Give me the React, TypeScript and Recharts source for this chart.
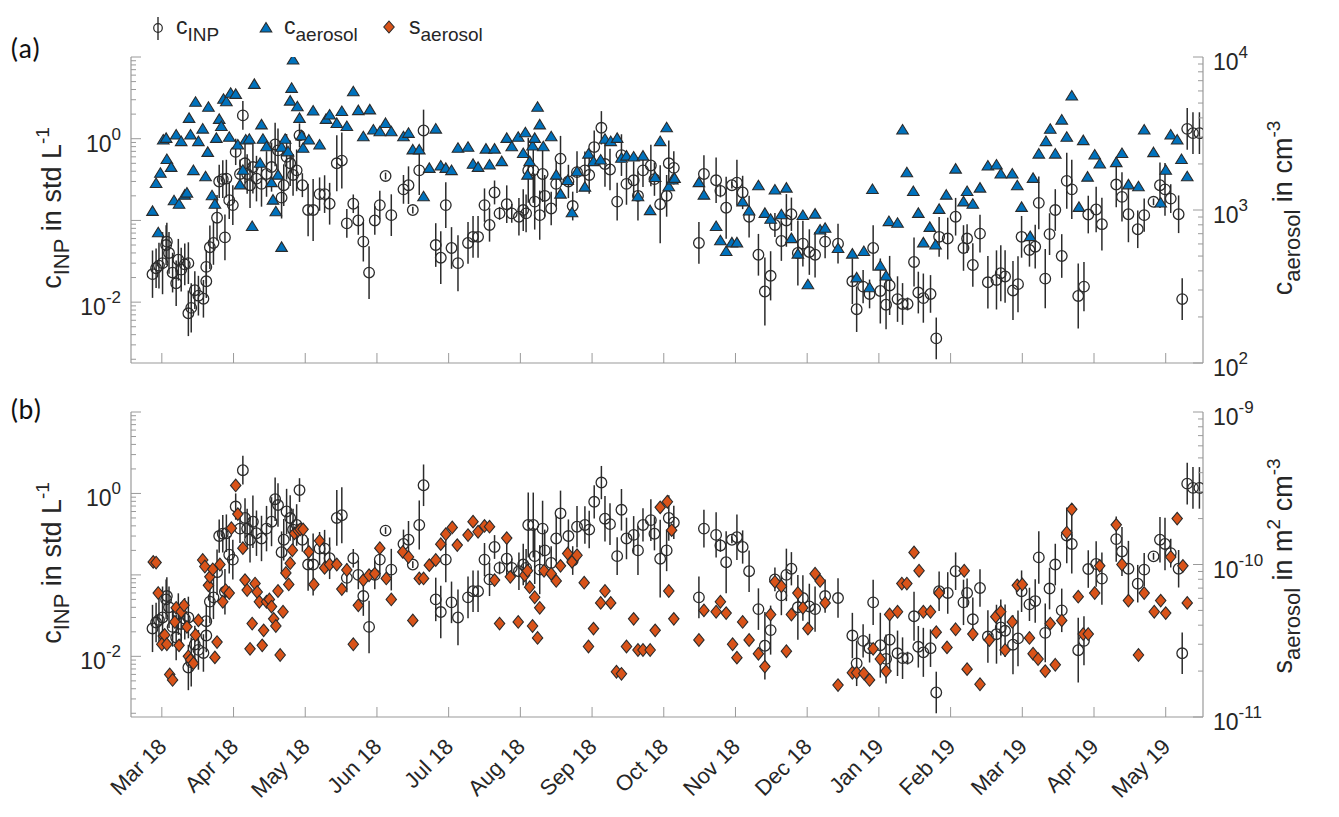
import React from 'react';
import { ScatterChart, Scatter, XAxis, YAxis, ErrorBar } from 'recharts';

// ---------- categories / ticks ----------
const monthLabels = ['Mar 18', 'Apr 18', 'May 18', 'Jun 18', 'Jul 18', 'Aug 18', 'Sep 18', 'Oct 18', 'Nov 18', 'Dec 18', 'Jan 19', 'Feb 19', 'Mar 19', 'Apr 19', 'May 19'];
const monthTicks = monthLabels.map((_, i) => i);
const xDomain = [-0.43, 14.52];

const inpDomain = [0.0018, 10];
const inpLabelTicks = [0.01, 1];
const concDomain = [100, 10000];
const concLabelTicks = [100, 1000, 10000];
const surfDomain = [1e-11, 1e-9];
const surfLabelTicks = [1e-11, 1e-10, 1e-9];

// ---------- series: c_INP [month, value (std L^-1), error factor] ----------
const inpData = [
  [-0.13, 0.022, 1.95], [-0.08, 0.026, 1.75], [-0.04, 0.028, 1.9], [0.01, 0.030, 2.4], [0.06, 0.050, 1.75], [0.07, 0.055, 1.7], [0.10, 0.040, 1.8], [0.15, 0.023, 1.75], [0.20, 0.017, 1.9], [0.23, 0.033, 1.8],
  [0.27, 0.025, 1.85], [0.32, 0.029, 1.8], [0.37, 0.030, 1.8], [0.37, 0.0073, 1.9], [0.41, 0.0085, 2.0], [0.46, 0.014, 1.7], [0.51, 0.012, 1.75], [0.58, 0.011, 1.7], [0.62, 0.018, 1.6], [0.62, 0.027, 1.6],
  [0.67, 0.047, 1.85], [0.72, 0.053, 1.85], [0.77, 0.108, 1.9], [0.88, 0.062, 1.9], [0.80, 0.30, 1.6], [0.85, 0.32, 1.7], [0.90, 0.325, 1.7], [0.94, 0.177, 1.7], [0.99, 0.154, 1.75], [1.03, 0.69, 1.45],
  [1.09, 0.37, 1.5], [1.13, 1.93, 1.5], [1.16, 0.50, 1.75], [1.19, 0.37, 1.75], [1.23, 0.27, 1.9], [1.27, 0.45, 2.1], [1.32, 0.325, 1.9], [1.39, 0.28, 1.9], [1.46, 0.37, 1.9], [1.53, 0.45, 2.0],
  [1.58, 0.85, 1.85], [1.62, 0.72, 1.85], [1.67, 0.19, 1.8], [1.70, 0.27, 1.8], [1.74, 0.60, 1.9], [1.79, 0.50, 1.9], [1.83, 0.36, 1.8], [1.88, 0.41, 1.8], [1.92, 1.10, 1.4], [1.96, 0.27, 1.4],
  [2.04, 0.134, 2.1], [2.11, 0.134, 2.4], [2.20, 0.21, 1.6], [2.27, 0.21, 1.7], [2.34, 0.16, 1.8], [2.44, 0.50, 2.2], [2.51, 0.54, 2.2], [2.58, 0.092, 1.5], [2.67, 0.16, 1.3], [2.74, 0.10, 1.5],
  [2.81, 0.055, 1.75], [2.89, 0.023, 2.1], [2.97, 0.10, 1.5], [3.04, 0.154, 1.5], [3.12, 0.35, 1.1], [3.20, 0.116, 1.8], [3.37, 0.24, 1.5], [3.44, 0.27, 1.7], [3.50, 0.134, 1.1], [3.59, 0.41, 2.0],
  [3.65, 1.26, 1.8], [3.82, 0.050, 1.85], [3.89, 0.035, 2.1], [3.96, 0.154, 1.9], [4.04, 0.046, 1.8], [4.13, 0.030, 2.2], [4.27, 0.053, 1.8], [4.34, 0.063, 1.8], [4.41, 0.063, 1.8], [4.50, 0.154, 1.6],
  [4.57, 0.088, 1.6], [4.64, 0.22, 1.4], [4.71, 0.122, 1.2],
  [4.81, 0.158, 1.7], [4.88, 0.122, 1.3], [4.98, 0.111, 1.7], [5.04, 0.134, 1.8], [5.08, 0.122, 1.7], [5.11, 0.41, 2.5], [5.18, 0.41, 2.5], [5.20, 0.17, 2.2], [5.27, 0.116, 2.0], [5.31, 0.37, 2.2],
  [5.34, 0.20, 1.8], [5.43, 0.14, 1.6], [5.50, 0.28, 1.9], [5.56, 0.57, 1.9], [5.67, 0.30, 1.6], [5.73, 0.15, 1.5], [5.79, 0.39, 1.8], [5.90, 0.41, 1.7], [5.96, 0.36, 1.7], [6.03, 0.79, 1.6],
  [6.13, 1.36, 1.6], [6.18, 0.49, 1.9], [6.25, 0.42, 1.8], [6.35, 0.17, 1.7], [6.41, 0.63, 1.8], [6.48, 0.28, 1.8], [6.58, 0.31, 1.7], [6.64, 0.20, 2.0], [6.71, 0.41, 1.6], [6.82, 0.47, 1.8],
  [6.87, 0.32, 1.6], [6.95, 0.158, 3.0], [7.04, 0.20, 1.8], [7.07, 0.50, 1.9], [7.14, 0.44, 1.6], [7.49, 0.053, 1.8], [7.56, 0.37, 1.7], [7.73, 0.31, 1.9], [7.79, 0.23, 1.2], [7.87, 0.143, 2.4],
  [7.95, 0.27, 1.1], [8.02, 0.29, 1.9], [8.10, 0.22, 1.6], [8.19, 0.111, 1.8], [8.32, 0.038, 1.8], [8.41, 0.0135, 2.6], [8.49, 0.021, 2.0], [8.55, 0.088, 1.4], [8.64, 0.056, 1.75], [8.71, 0.10, 2.1],
  [8.78, 0.119, 1.6], [8.87, 0.040, 2.5], [8.94, 0.052, 1.9], [9.03, 0.041, 1.9], [9.11, 0.038, 1.9], [9.25, 0.055, 1.6], [9.43, 0.052, 1.75], [9.63, 0.018, 1.9], [9.69, 0.0082, 1.9],
  [9.78, 0.0155, 1.6], [9.87, 0.0126, 1.5], [9.92, 0.046, 1.9], [10.02, 0.0137, 2.5], [10.10, 0.0093, 2.0], [10.15, 0.016, 2.3], [10.26, 0.0109, 1.9], [10.33, 0.0095, 1.8], [10.40, 0.0095, 1.2], [10.49, 0.031, 2.0],
  [10.55, 0.0131, 1.8], [10.62, 0.0112, 2.0], [10.72, 0.0126, 1.7], [10.80, 0.0036, 1.8], [10.84, 0.063, 1.75], [10.96, 0.060, 1.8], [11.07, 0.111, 1.7], [11.18, 0.046, 1.9], [11.23, 0.060, 1.5], [11.31, 0.0285, 1.85],
  [11.41, 0.069, 1.7], [11.52, 0.0175, 2.1], [11.64, 0.0187, 2.3], [11.70, 0.0226, 2.2], [11.76, 0.0206, 2.1], [11.87, 0.0139, 2.3], [11.94, 0.0166, 2.2], [11.99, 0.063, 1.8], [12.10, 0.0435, 1.6], [12.18, 0.0477, 1.85],
  [12.23, 0.164, 2.1], [12.32, 0.0194, 2.3], [12.38, 0.068, 1.8], [12.46, 0.134, 1.8], [12.55, 0.0367, 1.85], [12.62, 0.305, 2.2], [12.69, 0.24, 2.3], [12.78, 0.0119, 2.5], [12.86, 0.0155, 2.0], [12.92, 0.118, 1.7],
  [13.03, 0.136, 1.9], [13.11, 0.090, 2.1], [13.31, 0.275, 1.9], [13.39, 0.194, 2.0], [13.48, 0.119, 2.2], [13.61, 0.078, 1.7], [13.70, 0.116, 1.6], [13.83, 0.169, 1.1], [13.92, 0.27, 1.9], [13.99, 0.24, 2.1],
  [14.07, 0.185, 1.5], [14.18, 0.119, 1.7], [14.23, 0.0109, 1.8], [14.30, 1.32, 1.8], [14.38, 1.17, 1.8], [14.47, 1.17, 1.8],
];

// ---------- series: c_aerosol [month, cm^-3] ----------
const aerosolConc = [
  [-0.13, 980], [-0.08, 1490], [-0.05, 710], [-0.02, 1740], [0.02, 2870], [0.06, 2940], [0.07, 2140], [0.13, 1900], [0.17, 1150], [0.20, 3090],
  [0.24, 1090], [0.27, 2800], [0.32, 1250], [0.35, 1290], [0.38, 3970], [0.40, 3090], [0.44, 1810], [0.47, 5060], [0.51, 2800], [0.57, 3380],
  [0.61, 1650], [0.65, 4690], [0.64, 2380], [0.70, 1240], [0.74, 1090], [0.76, 2940], [0.80, 3910], [0.83, 3510], [0.86, 5290], [0.90, 5100],
  [0.94, 2990], [0.96, 5800], [1.03, 5700], [1.06, 2660], [1.09, 1460], [1.13, 1820], [1.17, 2870], [1.22, 2900], [1.26, 780], [1.29, 6620],
  [1.37, 2020], [1.39, 3600], [1.41, 2900], [1.46, 2590], [1.53, 1510], [1.55, 1160], [1.59, 975], [1.62, 1690], [1.67, 2570], [1.67, 570],
  [1.72, 2900], [1.76, 2400], [1.79, 5150], [1.81, 6240], [1.83, 9550], [1.89, 4730], [1.92, 3970], [1.95, 3050], [1.97, 2530], [2.05, 2870],
  [2.11, 4440], [2.20, 2660], [2.29, 3910], [2.34, 4180], [2.44, 3680], [2.51, 4400], [2.58, 3510], [2.67, 5930], [2.74, 4460], [2.81, 3010],
  [2.90, 4510], [2.95, 3330], [3.04, 3250], [3.12, 3680], [3.20, 3250], [3.37, 3010], [3.44, 3170], [3.50, 2470], [3.59, 2470], [3.65, 1220],
  [3.73, 1870], [3.82, 3380], [3.89, 1940], [3.96, 1870], [4.04, 1810], [4.13, 2530], [4.27, 2570], [4.34, 1990], [4.41, 1900], [4.52, 2500],
  [4.57, 1970], [4.64, 2500],
  [4.74, 2070], [4.81, 2940], [4.88, 2590], [4.97, 2990], [5.04, 2340], [5.07, 3200], [5.10, 1690], [5.13, 2070], [5.17, 2620], [5.20, 2940],
  [5.24, 4690], [5.27, 3600], [5.32, 2590], [5.43, 3010], [5.50, 1690], [5.56, 1270], [5.66, 1560], [5.72, 960], [5.79, 1780], [5.90, 1410],
  [5.95, 2320], [6.02, 2070], [6.12, 2120], [6.18, 2900], [6.26, 2800], [6.35, 2940], [6.41, 2180], [6.48, 2250], [6.58, 2220], [6.64, 1220],
  [6.71, 2250], [6.81, 990], [6.88, 1630], [6.95, 2800], [7.04, 3450], [7.07, 1420], [7.12, 1570], [7.15, 1610], [7.49, 1510], [7.56, 1250],
  [7.73, 780], [7.79, 630], [7.87, 535], [7.95, 610], [8.02, 610], [8.10, 1130], [8.19, 985], [8.32, 1440], [8.41, 950], [8.49, 870],
  [8.55, 1350], [8.64, 930], [8.71, 1390], [8.78, 650], [8.87, 515], [8.94, 920], [9.01, 325], [9.11, 940], [9.18, 740], [9.25, 760],
  [9.43, 560], [9.63, 515], [9.69, 360],
  [9.79, 535], [9.87, 310], [9.91, 1360], [10.02, 430], [10.10, 370], [10.14, 840], [10.26, 820], [10.33, 3330], [10.39, 1750], [10.48, 1320],
  [10.55, 950], [10.62, 610], [10.71, 770], [10.79, 590], [10.84, 1010], [10.94, 1250], [11.07, 1850], [11.18, 1130], [11.23, 1320], [11.31, 1090],
  [11.41, 1390], [11.52, 1940], [11.64, 1970], [11.70, 1720], [11.86, 1720], [11.93, 1440], [11.99, 1040], [12.11, 670], [12.15, 1610], [12.23, 2320],
  [12.33, 2800], [12.39, 3370], [12.46, 2320], [12.55, 3870], [12.62, 2990], [12.69, 5560], [12.79, 1040], [12.85, 2840], [12.91, 1640], [13.01, 2290],
  [13.08, 2000], [13.31, 2040], [13.39, 2340], [13.48, 1460], [13.62, 1420], [13.70, 3330], [13.83, 2370], [13.93, 1110], [14.00, 1820], [14.07, 3090],
  [14.16, 2870], [14.22, 2140], [14.30, 1650],
];

// ---------- series: s_aerosol [month, m^2 cm^-3] ----------
const aerosolSurf = [
  [-0.12, 1.04e-10], [-0.08, 1.03e-10], [-0.05, 6.5e-11], [0.02, 3.4e-11], [0.04, 3.45e-11], [0.0, 3.0e-11], [0.07, 3.0e-11], [0.11, 1.9e-11], [0.15, 1.75e-11], [0.18, 4.2e-11],
  [0.20, 5.2e-11], [0.24, 2.95e-11], [0.27, 4.9e-11], [0.31, 5.4e-11], [0.35, 3.9e-11], [0.37, 2.5e-11], [0.40, 2.37e-11], [0.44, 2.25e-11], [0.47, 3.45e-11], [0.51, 4.3e-11],
  [0.57, 1.07e-10], [0.60, 9.7e-11], [0.65, 7.3e-11], [0.67, 8.3e-11], [0.71, 9.3e-11], [0.74, 2.46e-11], [0.77, 3.1e-11], [0.81, 1.0e-10], [0.85, 5.7e-11], [0.89, 6.8e-11],
  [0.94, 6.5e-11], [0.97, 1.73e-10], [1.03, 3.3e-10], [1.06, 2.14e-10], [1.13, 1.28e-10], [1.16, 7.9e-11], [1.19, 6.8e-11], [1.23, 2.8e-11], [1.26, 4.1e-11], [1.30, 7.5e-11],
  [1.33, 6.6e-11], [1.36, 5.7e-11], [1.40, 2.95e-11], [1.42, 3.7e-11], [1.46, 5.7e-11], [1.50, 5.9e-11], [1.53, 5.3e-11], [1.56, 4.4e-11], [1.59, 3.95e-11], [1.62, 6.7e-11],
  [1.65, 2.55e-11], [1.69, 4.9e-11], [1.73, 8.8e-11], [1.77, 7.4e-11], [1.79, 1.02e-10], [1.82, 1.24e-10], [1.85, 1.6e-10], [1.90, 1.67e-10], [1.93, 1.7e-10], [1.97, 1.7e-10],
  [2.05, 1.21e-10], [2.12, 7.4e-11], [2.20, 1.43e-10], [2.27, 9.5e-11], [2.34, 1.0e-10], [2.44, 1.0e-10], [2.51, 6.9e-11], [2.58, 9.2e-11], [2.67, 3.0e-11], [2.74, 5.4e-11],
  [2.81, 7.9e-11], [2.89, 8.5e-11], [2.97, 8.7e-11], [3.04, 1.28e-10], [3.13, 8.1e-11], [3.20, 5.9e-11], [3.36, 1.21e-10], [3.44, 1.12e-10], [3.50, 4.3e-11], [3.59, 8.1e-11],
  [3.65, 8.1e-11], [3.73, 9.9e-11], [3.82, 1.07e-10], [3.89, 1.36e-10], [3.96, 1.58e-10], [4.05, 1.75e-10], [4.12, 1.34e-10], [4.27, 1.56e-10], [4.34, 1.91e-10], [4.41, 1.64e-10],
  [4.50, 1.79e-10], [4.57, 1.77e-10], [4.64, 7.9e-11], [4.71, 4.1e-11],
  [4.81, 1.49e-10], [4.86, 8.3e-11], [4.97, 4.2e-11], [5.06, 8.5e-11], [5.10, 9.1e-11], [5.13, 7.1e-11], [5.17, 3.95e-11], [5.20, 6.1e-11], [5.24, 3.3e-11], [5.27, 5.2e-11],
  [5.33, 9.1e-11], [5.43, 8.7e-11], [5.50, 7.8e-11], [5.56, 9.8e-11], [5.66, 1.18e-10], [5.72, 1.04e-10], [5.79, 1.15e-10], [5.89, 7.6e-11], [5.95, 2.9e-11], [6.02, 3.8e-11],
  [6.12, 5.6e-11], [6.18, 6.7e-11], [6.26, 5.6e-11], [6.34, 1.98e-11], [6.41, 1.92e-11], [6.48, 2.9e-11], [6.58, 4.4e-11], [6.64, 2.75e-11], [6.71, 2.75e-11], [6.81, 2.75e-11],
  [6.88, 3.7e-11], [6.95, 2.37e-10], [7.05, 2.58e-10], [7.11, 1.68e-10], [7.07, 6.7e-11], [7.14, 4.4e-11], [7.49, 3.2e-11], [7.56, 5.0e-11], [7.73, 4.9e-11], [7.79, 5.7e-11],
  [7.87, 4.8e-11], [7.96, 3.0e-11], [8.02, 2.45e-11], [8.10, 4.2e-11], [8.19, 3.2e-11], [8.32, 2.6e-11], [8.41, 2.14e-11], [8.49, 4.7e-11], [8.55, 7.7e-11], [8.64, 7.2e-11],
  [8.71, 2.7e-11], [8.78, 4.7e-11], [8.87, 6.5e-11], [8.94, 5.2e-11], [9.01, 3.8e-11], [9.11, 8.7e-11], [9.18, 7.8e-11], [9.25, 5.6e-11], [9.43, 1.62e-11], [9.63, 1.95e-11],
  [9.69, 1.95e-11],
  [9.79, 1.93e-11], [9.87, 1.75e-11], [9.92, 2.8e-11], [10.02, 2.4e-11], [10.10, 2.0e-11], [10.15, 4.7e-11], [10.26, 4.9e-11], [10.32, 7.5e-11], [10.39, 7.5e-11], [10.49, 1.2e-10],
  [10.56, 9.1e-11], [10.62, 4.9e-11], [10.72, 4.9e-11], [10.80, 3.6e-11], [10.84, 6.5e-11], [10.95, 2.86e-11], [11.07, 3.76e-11], [11.19, 9.1e-11], [11.23, 2.06e-11], [11.31, 3.5e-11],
  [11.41, 1.64e-11], [11.54, 3.2e-11], [11.63, 4.55e-11], [11.70, 4.9e-11], [11.76, 2.75e-11], [11.86, 4.2e-11], [11.93, 7.3e-11], [12.00, 7.4e-11], [12.10, 3.3e-11], [12.15, 2.6e-11],
  [12.22, 2.4e-11], [12.32, 2.0e-11], [12.39, 4.1e-11], [12.46, 2.2e-11], [12.55, 4.3e-11], [12.62, 1.62e-10], [12.69, 2.3e-10], [12.78, 6.15e-11], [12.85, 3.5e-11], [12.92, 3.5e-11],
  [13.01, 6.5e-11], [13.08, 9.8e-11], [13.31, 1.82e-10], [13.39, 1.0e-10], [13.48, 5.8e-11], [13.62, 2.55e-11], [13.70, 6.5e-11], [13.84, 4.9e-11], [13.93, 5.8e-11], [14.00, 4.8e-11],
  [14.07, 1.12e-10], [14.16, 2.0e-10], [14.24, 9.8e-11], [14.30, 5.6e-11],
];

// ---------- derived tables for the library ----------
const inpPoints = inpData.map(([x, y, f]) => ({ x, y, err: [y - y / f, y * f - y] }));
const concPoints = aerosolConc.map(([x, y]) => ({ x, y }));
const surfPoints = aerosolSurf.map(([x, y]) => ({ x, y }));

const logTicks = (dom: number[]) => {
  const out: number[] = [];
  const e0 = Math.floor(Math.log10(dom[0]));
  const e1 = Math.ceil(Math.log10(dom[1]));
  for (let e = e0; e <= e1; e++) {
    for (let m = 1; m <= 9; m++) {
      const v = parseFloat((m * Math.pow(10, e)).toPrecision(6));
      if (v >= dom[0] * 0.9999 && v <= dom[1] * 1.0001) out.push(v);
    }
  }
  return out;
};

// ---------- style ----------
const AX = '#9a9a9a';
const TXT = '#262626';
const EDGE = '#2b2b2b';
const FONT = '"Liberation Sans", Arial, Helvetica, sans-serif';
const W = 1339;
const PL = 131;
const PR = 1203;

const isMajor = (v: number) => {
  const lg = Math.log10(v);
  return Math.abs(lg - Math.round(lg)) < 1e-6;
};

const YTick = (props: any) => {
  const { payload, y, side, labels } = props;
  const v = payload.value;
  const lg = Math.log10(v);
  const major = isMajor(v);
  const edge = side === 'left' ? PL : PR;
  const dir = side === 'left' ? 1 : -1;
  const len = major ? 10 : 5;
  const hasLabel = major && labels.some((l: number) => Math.abs(Math.log10(l) - lg) < 1e-6);
  return (
    <g>
      <line x1={edge} x2={edge + dir * len} y1={y} y2={y} stroke={AX} strokeWidth={1} />
      {hasLabel && (
        <text
          x={side === 'left' ? edge - 10 : edge + 10}
          y={y + 13}
          textAnchor={side === 'left' ? 'end' : 'start'}
          fontSize={23}
          fill={TXT}
          fontFamily={FONT}
        >
          10
          <tspan dy={-12} fontSize={17}>
            {String(Math.round(lg))}
          </tspan>
        </text>
      )}
    </g>
  );
};

const XTick = (props: any) => {
  const { x, payload, edgeY, dir, showLabel } = props;
  return (
    <g>
      <line x1={x} x2={x} y1={edgeY} y2={edgeY + dir * 10} stroke={AX} strokeWidth={1} />
      {showLabel && (
        <text
          transform={`translate(${x + 6},${edgeY + 31}) rotate(-45)`}
          textAnchor="end"
          fontSize={22}
          fill={TXT}
          fontFamily={FONT}
        >
          {monthLabels[payload.value]}
        </text>
      )}
    </g>
  );
};

const Circle = (p: any) => <circle cx={p.cx} cy={p.cy} r={5.3} fill="none" stroke={EDGE} strokeWidth={1.3} />;
const Tri = (p: any) => {
  const { cx, cy } = p;
  return <polygon points={`${cx},${cy - 5.5} ${cx + 5.8},${cy + 4} ${cx - 5.8},${cy + 4}`} fill="#0072BD" stroke={EDGE} strokeWidth={1.1} />;
};
const Dia = (p: any) => {
  const { cx, cy } = p;
  return <polygon points={`${cx},${cy - 6.3} ${cx + 5.2},${cy} ${cx},${cy + 6.3} ${cx - 5.2},${cy}`} fill="#D95319" stroke={EDGE} strokeWidth={1.1} />;
};

const Panel = (props: any) => {
  const { height, top, bottomH, rightData, rightDomain, rightLabels, rightShape, showXLabels } = props;
  const plotTop = top;
  const plotBottom = height - bottomH;
  return (
    <ScatterChart width={W} height={height} margin={{ top, right: 0, bottom: 0, left: 0 }}>
      <XAxis
        xAxisId="b"
        type="number"
        dataKey="x"
        domain={xDomain}
        ticks={monthTicks}
        interval={0}
        allowDataOverflow
        height={bottomH}
        axisLine={{ stroke: AX, strokeWidth: 1.2 }}
        tickLine={false}
        tick={(tp: any) => <XTick {...tp} edgeY={plotBottom} dir={-1} showLabel={showXLabels} />}
      />
      <XAxis
        xAxisId="t"
        orientation="top"
        type="number"
        dataKey="x"
        domain={xDomain}
        ticks={monthTicks}
        interval={0}
        allowDataOverflow
        height={0}
        axisLine={{ stroke: AX, strokeWidth: 1.2 }}
        tickLine={false}
        tick={(tp: any) => <XTick {...tp} edgeY={plotTop} dir={1} showLabel={false} />}
      />
      <YAxis
        yAxisId="l"
        orientation="left"
        type="number"
        dataKey="y"
        scale="log"
        domain={inpDomain}
        ticks={logTicks(inpDomain)}
        interval={0}
        allowDataOverflow
        width={PL}
        axisLine={{ stroke: AX, strokeWidth: 1.2 }}
        tickLine={false}
        tick={(tp: any) => <YTick {...tp} side="left" labels={inpLabelTicks} />}
      />
      <YAxis
        yAxisId="r"
        orientation="right"
        type="number"
        dataKey="y"
        scale="log"
        domain={rightDomain}
        ticks={logTicks(rightDomain)}
        interval={0}
        allowDataOverflow
        width={W - PR}
        axisLine={{ stroke: AX, strokeWidth: 1.2 }}
        tickLine={false}
        tick={(tp: any) => <YTick {...tp} side="right" labels={rightLabels} />}
      />
      <Scatter xAxisId="b" yAxisId="l" data={inpPoints} shape={(p: any) => <Circle {...p} />} isAnimationActive={false}>
        <ErrorBar dataKey="err" direction="y" width={0} stroke={EDGE} strokeWidth={1.5} isAnimationActive={false} />
      </Scatter>
      <Scatter xAxisId="b" yAxisId="r" data={rightData} shape={(p: any) => rightShape(p)} isAnimationActive={false} />
    </ScatterChart>
  );
};

const sub = (t: string, fs: number, dy: number) => (
  <span style={{ fontSize: fs, position: 'relative', top: dy }}>{t}</span>
);

const RotLabel = ({ cx, cy, children }: any) => (
  <div
    style={{
      position: 'absolute',
      left: cx,
      top: cy,
      transform: 'translate(-50%, -50%) rotate(-90deg)',
      whiteSpace: 'nowrap',
      fontSize: 27,
      color: TXT,
      fontFamily: FONT,
      lineHeight: '32px',
    }}
  >
    {children}
  </div>
);

export default function App() {
  return (
    <div style={{ position: 'absolute', left: 0, top: 0, width: W, height: 817, background: '#fff', overflow: 'hidden', fontFamily: FONT }}>
      <div style={{ position: 'absolute', left: 0, top: 0 }}>
        <Panel
          height={390}
          top={57}
          bottomH={27}
          rightData={concPoints}
          rightDomain={concDomain}
          rightLabels={concLabelTicks}
          rightShape={(p: any) => <Tri {...p} />}
          showXLabels={false}
        />
      </div>
      <div style={{ position: 'absolute', left: 0, top: 380 }}>
        <Panel
          height={437}
          top={32}
          bottomH={100}
          rightData={surfPoints}
          rightDomain={surfDomain}
          rightLabels={surfLabelTicks}
          rightShape={(p: any) => <Dia {...p} />}
          showXLabels={true}
        />
      </div>

      {/* panel letters */}
      <div style={{ position: 'absolute', left: 10, top: 31, fontSize: 28, color: '#111', fontFamily: 'Carlito, Lato, "Open Sans", sans-serif' }}>(a)</div>
      <div style={{ position: 'absolute', left: 10, top: 392, fontSize: 28, color: '#111', fontFamily: 'Carlito, Lato, "Open Sans", sans-serif' }}>(b)</div>

      {/* legend */}
      <svg style={{ position: 'absolute', left: 0, top: 0 }} width={620} height={52}>
        <line x1={158} x2={158} y1={17} y2={40} stroke={EDGE} strokeWidth={1.4} />
        <circle cx={158} cy={28} r={4.3} fill="none" stroke={EDGE} strokeWidth={1.2} />
        <polygon points="266,22.5 271.8,32 260.2,32" fill="#0072BD" stroke={EDGE} strokeWidth={1.1} />
        <polygon points="389,21 394.2,27 389,33 383.8,27" fill="#D95319" stroke={EDGE} strokeWidth={1.1} />
        <text x={176} y={34} fontSize={23} fill={TXT} fontFamily={FONT}>
          c<tspan dy={7} fontSize={19}>INP</tspan>
        </text>
        <text x={284} y={34} fontSize={23} fill={TXT} fontFamily={FONT}>
          c<tspan dy={7} fontSize={19}>aerosol</tspan>
        </text>
        <text x={409} y={34} fontSize={23} fill={TXT} fontFamily={FONT}>
          s<tspan dy={7} fontSize={19}>aerosol</tspan>
        </text>
      </svg>

      {/* axis titles */}
      <RotLabel cx={53} cy={208}>
        c{sub('INP', 22, 8)} in std L{sub('-1', 19, -12)}
      </RotLabel>
      <RotLabel cx={53} cy={563}>
        c{sub('INP', 22, 8)} in std L{sub('-1', 19, -12)}
      </RotLabel>
      <RotLabel cx={1284} cy={208}>
        c{sub('aerosol', 22, 8)} in cm{sub('-3', 19, -12)}
      </RotLabel>
      <RotLabel cx={1284} cy={566}>
        s{sub('aerosol', 22, 8)} in m{sub('2', 19, -12)} cm{sub('-3', 19, -12)}
      </RotLabel>
    </div>
  );
}
